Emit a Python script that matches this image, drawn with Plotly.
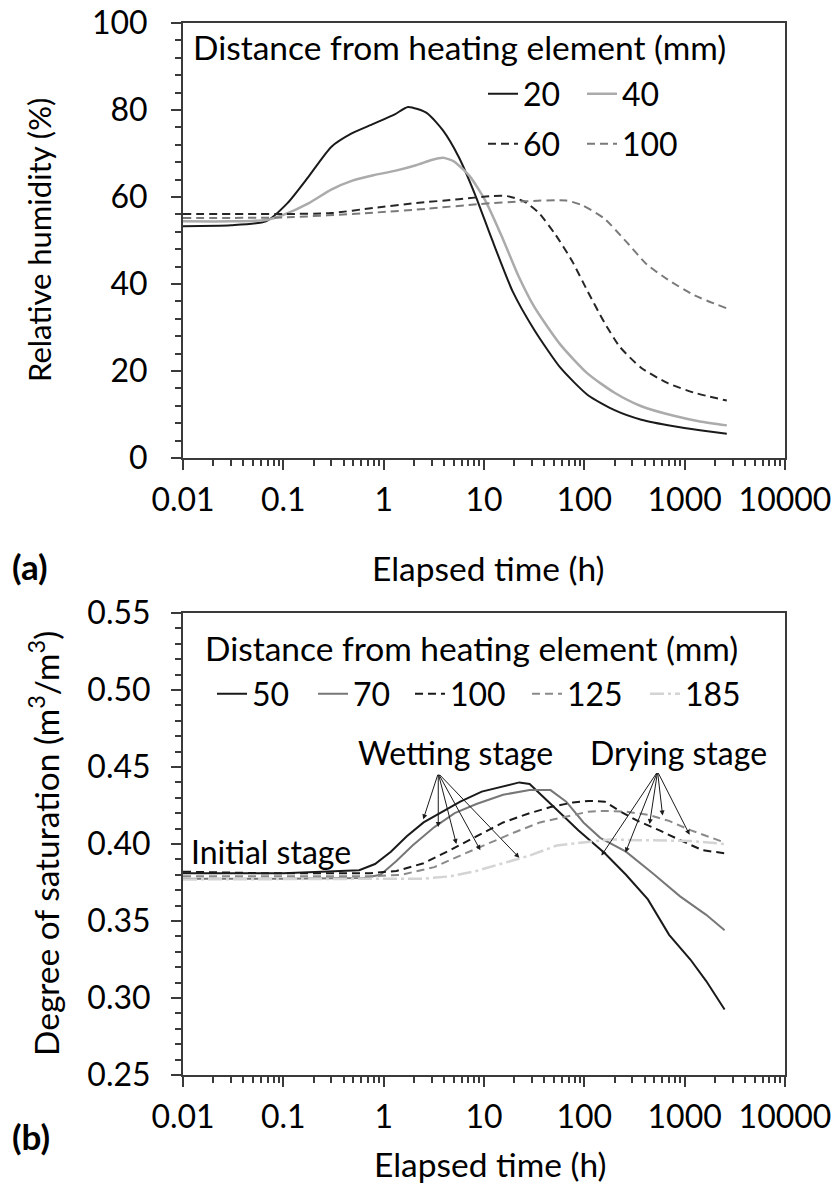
import math
import plotly.graph_objects as go

# ---------------- data (a): relative humidity ----------------
t_rh20 = [0.01, 0.03, 0.067, 0.11, 0.18, 0.30, 0.48, 0.79, 1.29, 1.75, 2.7, 3.9, 5.6, 8.2, 11.8, 19.3, 31.6, 58, 108, 200, 370, 780, 1420, 2630]
rh20 = [53.3, 53.5, 54.4, 58.6, 64.8, 71.5, 74.6, 76.8, 79.0, 80.7, 79.3, 75.3, 69.2, 60.4, 50.7, 38.3, 29.5, 20.7, 14.5, 11.0, 8.8, 7.3, 6.4, 5.6]

t_rh40 = [0.01, 0.03, 0.067, 0.10, 0.18, 0.30, 0.48, 0.79, 1.29, 2.1, 3.0, 3.9, 5.0, 7.2, 10.4, 15.2, 22, 31.6, 58, 108, 200, 370, 780, 1420, 2630]
rh40 = [54.4, 54.4, 54.7, 55.9, 58.6, 61.7, 63.7, 65.0, 66.0, 67.3, 68.5, 69.0, 68.2, 64.8, 59.0, 50.7, 41.9, 34.8, 26.0, 19.4, 15.0, 11.9, 9.7, 8.4, 7.5]

t_rh60 = [0.01, 0.1, 0.3, 0.79, 2.1, 5.6, 11.8, 17, 25, 35, 51, 75, 108, 157, 225, 370, 680, 1250, 2630]
rh60 = [56.1, 56.1, 56.3, 57.5, 58.6, 59.5, 60.2, 60.2, 59.0, 56.4, 51.5, 45.4, 38.3, 31.3, 25.6, 20.7, 17.2, 15.0, 13.2]

t_rh100 = [0.01, 0.1, 0.79, 2.7, 9.2, 25, 66, 95, 157, 260, 420, 680, 1250, 2630]
rh100 = [55.2, 55.3, 56.4, 57.3, 58.4, 59.0, 59.2, 58.1, 55.1, 49.8, 44.5, 41.0, 37.4, 34.4]

# ---------------- data (b): degree of saturation ----------------
t_s50 = [0.01, 0.1, 0.57, 0.82, 1.18, 1.7, 2.5, 3.6, 5.8, 9.5, 15.5, 22.5, 28.5, 41, 60, 87, 126, 160, 260, 430, 700, 1140, 1640, 2500]
s50 = [0.381, 0.381, 0.383, 0.387, 0.395, 0.405, 0.414, 0.420, 0.4275, 0.434, 0.4375, 0.440, 0.439, 0.429, 0.419, 0.409, 0.400, 0.394, 0.380, 0.364, 0.341, 0.325, 0.311, 0.2925]

t_s70 = [0.01, 0.1, 0.64, 0.93, 1.34, 1.94, 3.2, 5.1, 8.4, 15.5, 28.5, 46, 66, 98, 144, 260, 480, 900, 1640, 2500]
s70 = [0.3775, 0.3775, 0.378, 0.380, 0.389, 0.399, 0.411, 0.420, 0.426, 0.432, 0.435, 0.435, 0.4275, 0.414, 0.404, 0.395, 0.381, 0.366, 0.354, 0.344]

t_s100 = [0.01, 0.063, 0.73, 1.34, 2.5, 4.6, 8.4, 15.5, 28.5, 46, 77, 110, 160, 230, 340, 555, 900, 1500, 2500]
s100 = [0.382, 0.381, 0.381, 0.3825, 0.3875, 0.396, 0.405, 0.414, 0.420, 0.424, 0.427, 0.428, 0.4275, 0.421, 0.415, 0.409, 0.4025, 0.396, 0.394]

t_s125 = [0.01, 0.73, 1.5, 3.2, 5.8, 10.8, 20, 36, 66, 110, 160, 260, 430, 700, 1140, 2500]
s125 = [0.379, 0.379, 0.380, 0.385, 0.3925, 0.400, 0.4075, 0.414, 0.418, 0.421, 0.4215, 0.421, 0.419, 0.415, 0.409, 0.401]

t_s185 = [0.01, 2.5, 4.6, 8.4, 15.5, 28.5, 53, 98, 180, 340, 630, 1140, 2500]
s185 = [0.377, 0.3775, 0.379, 0.3825, 0.3875, 0.3925, 0.399, 0.401, 0.403, 0.4025, 0.402, 0.402, 0.400]

# arrows: (time, value) heads and tails
wet_tail = (3.5, 0.4459)
wet_heads_t = [2.48, 3.5, 5.3, 9.2, 22.5]
wet_heads_v = [0.416, 0.411, 0.400, 0.396, 0.391]
dry_tail = (537, 0.447)
dry_heads_t = [148, 257, 447, 603, 1120]
dry_heads_v = [0.3925, 0.3945, 0.413, 0.4185, 0.406]

x_tickvals = [0.01, 0.1, 1, 10, 100, 1000, 10000]
x_ticktext = ["0.01", "0.1", "1", "10", "100", "1000", "10000"]
x_minor = [k * 10.0 ** d for d in range(-2, 4) for k in range(2, 10)]

# ---------------- layout helpers ----------------
W, H = 835, 1184
ML, MR = 183, 50
PW = W - ML - MR
FONT = "Lato"
FS_NUM = 32
FS_TXT = 33.5
FS_STAGE = 32


def px(xp):
    return (xp - ML) / PW


def py(yp):
    return 1 - yp / H


fig = go.Figure()

series_a = [
    (t_rh20, rh20, "20", "#1a1a1a", 2, "solid", "legend"),
    (t_rh40, rh40, "40", "#ababab", 2.5, "solid", "legend2"),
    (t_rh60, rh60, "60", "#262626", 2, "8px,5px", "legend3"),
    (t_rh100, rh100, "100", "#7a7a7a", 2, "8px,5px", "legend4"),
]
for t, v, name, col, w, dash, lg in series_a:
    fig.add_trace(go.Scatter(x=t, y=v, mode="lines", name=name, xaxis="x", yaxis="y",
                             line=dict(color=col, width=w, dash=dash, shape="spline", smoothing=0.6),
                             legend=lg))

series_b = [
    (t_s50, s50, "50", "#1a1a1a", 2, "solid", "legend5"),
    (t_s70, s70, "70", "#777777", 2, "solid", "legend6"),
    (t_s100, s100, "100", "#1a1a1a", 2, "8px,5px", "legend7"),
    (t_s125, s125, "125", "#8a8a8a", 2, "8px,5px", "legend8"),
    (t_s185, s185, "185", "#d4d4d4", 2.5, "14px,4px,3px,4px", "legend9"),
]
for t, v, name, col, w, dash, lg in series_b:
    fig.add_trace(go.Scatter(x=t, y=v, mode="lines", name=name, xaxis="x2", yaxis="y2",
                             line=dict(color=col, width=w, dash=dash),
                             legend=lg))

axis_line = dict(showline=True, linecolor="#3a3a3a", linewidth=2, mirror=True, automargin=False,
                 showgrid=False, zeroline=False, ticks="outside", ticklen=10, tickwidth=2,
                 tickcolor="#3a3a3a", tickfont=dict(family=FONT, size=FS_NUM, color="black"))

xcommon = dict(axis_line, type="log", range=[-2, 4], tickvals=x_tickvals, ticktext=x_ticktext,
               minor=dict(tickvals=x_minor, ticks="outside", ticklen=6, tickwidth=2, tickcolor="#3a3a3a"),
               ticklabelstandoff=3)

fig.update_layout(
    width=W, height=H,
    margin=dict(l=ML, r=MR, t=0, b=0, autoexpand=False),
    paper_bgcolor="white", plot_bgcolor="white",
    xaxis=dict(xcommon, domain=[0, 1], anchor="y"),
    yaxis=dict(axis_line, domain=[py(458), py(23)], anchor="x", range=[0, 100], dtick=20,
               minor=dict(dtick=4, ticks="outside", ticklen=6, tickwidth=2, tickcolor="#3a3a3a"),
               ticklabelstandoff=17),
    xaxis2=dict(xcommon, domain=[0, 1], anchor="y2"),
    yaxis2=dict(axis_line, domain=[py(1075), py(613)], anchor="x2", range=[0.25, 0.55], dtick=0.05,
                tickformat=".2f",
                minor=dict(dtick=0.01, ticks="outside", ticklen=6, tickwidth=2, tickcolor="#3a3a3a"),
                ticklabelstandoff=14),
    showlegend=True,
)

leg_pos = {
    "legend": (483, 94), "legend2": (582, 94), "legend3": (483, 144), "legend4": (582, 144),
    "legend5": (212, 694), "legend6": (313, 694), "legend7": (410, 694), "legend8": (527, 694),
    "legend9": (645, 694),
}
for key, (lx, ly) in leg_pos.items():
    fig.update_layout({key: dict(x=px(lx), y=py(ly), xanchor="left", yanchor="middle",
                                 orientation="h", bgcolor="rgba(0,0,0,0)", borderwidth=0,
                                 font=dict(family=FONT, size=FS_NUM, color="black"))})

ann = []


def text(s, xp, yp, xanchor="left", bold=False, angle=0, size=FS_TXT):
    ann.append(dict(text=("<b>%s</b>" % s) if bold else s, x=px(xp), y=py(yp), xref="paper", yref="paper",
                    xanchor=xanchor, yanchor="middle", showarrow=False, textangle=angle,
                    font=dict(family=FONT, size=size, color="black")))


text("Distance from heating element (mm)", 191, 47)
text("Distance from heating element (mm)", 203, 648)
text("Relative humidity (%)", 39, 240, xanchor="center", angle=-90, size=31)
text("Degree of saturation (m<sup>3</sup>/m<sup>3</sup>)", 44, 844, xanchor="center", angle=-90)
text("Elapsed time (h)", 488, 568, xanchor="center")
text("Elapsed time (h)", 490, 1164, xanchor="center")
text("(a)", 10, 566, bold=True, size=35)
text("(b)", 10, 1136, bold=True, size=35)
text("Wetting stage", 455, 752, xanchor="center", size=FS_STAGE)
text("Drying stage", 678, 752, xanchor="center", size=FS_STAGE)
text("Initial stage", 189, 851, size=FS_STAGE)

for tt, vv in zip(wet_heads_t, wet_heads_v):
    ann.append(dict(x=math.log10(tt), y=vv, xref="x2", yref="y2",
                    ax=math.log10(wet_tail[0]), ay=wet_tail[1], axref="x2", ayref="y2",
                    showarrow=True, arrowhead=2, arrowsize=1, arrowwidth=1, arrowcolor="#1a1a1a", text=""))
for tt, vv in zip(dry_heads_t, dry_heads_v):
    ann.append(dict(x=math.log10(tt), y=vv, xref="x2", yref="y2",
                    ax=math.log10(dry_tail[0]), ay=dry_tail[1], axref="x2", ayref="y2",
                    showarrow=True, arrowhead=2, arrowsize=1, arrowwidth=1, arrowcolor="#1a1a1a", text=""))

fig.update_layout(annotations=ann)
fig.write_html("out.html")
